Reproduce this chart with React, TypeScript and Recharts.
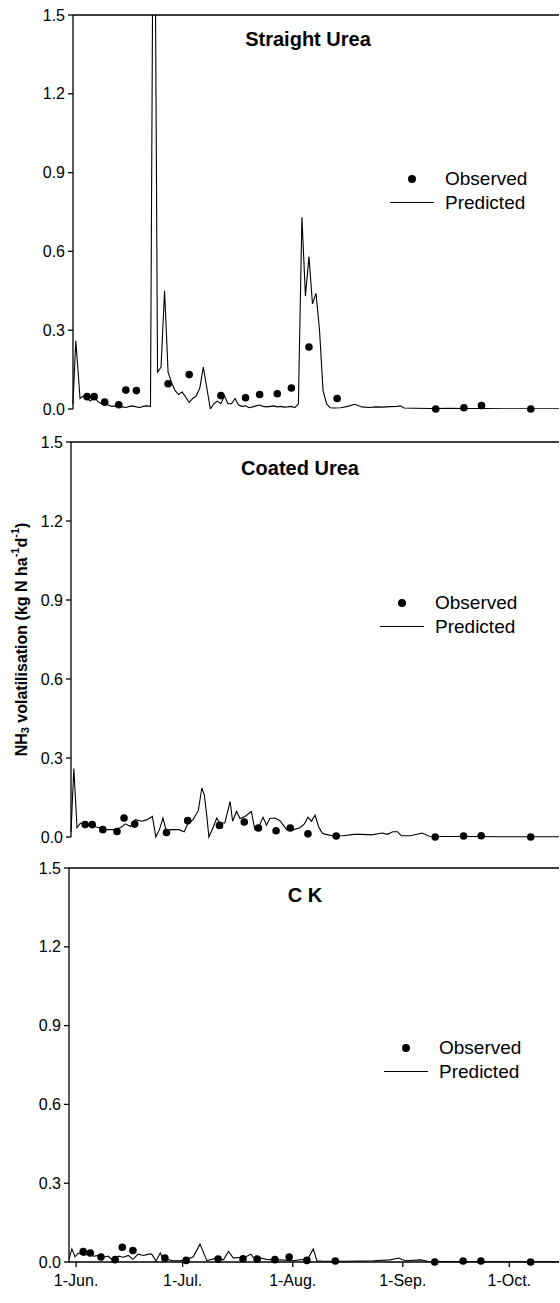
import React from 'react';
import { ComposedChart, Line, Scatter, XAxis, YAxis, ReferenceLine } from 'recharts';

const FONT = '"Liberation Sans", Arial, Helvetica, sans-serif';

// x values are days counted from 1 June
const monthTicks = [0, 30, 61, 92, 122];
const monthLabels = ['1-Jun.', '1-Jul.', '1-Aug.', '1-Sep.', '1-Oct.'];
const yTicks = [0, 0.3, 0.6, 0.9, 1.2, 1.5];

// sampling dates of the field measurements
const obsDays = [2, 4, 7, 11, 13, 16, 25, 31, 40, 47, 51, 56, 60, 65, 73, 101, 109, 114, 128];
const ureaObs = [0.047, 0.047, 0.026, 0.016, 0.072, 0.07, 0.096, 0.131, 0.051, 0.043, 0.055, 0.058, 0.08, 0.236, 0.04, 0.0, 0.005, 0.013, 0.0];
const coatedObs = [0.047, 0.047, 0.028, 0.021, 0.072, 0.049, 0.017, 0.062, 0.044, 0.057, 0.034, 0.024, 0.034, 0.012, 0.004, 0.0, 0.004, 0.005, 0.0];
const ckObs = [0.04, 0.034, 0.019, 0.009, 0.056, 0.044, 0.015, 0.006, 0.011, 0.012, 0.011, 0.009, 0.019, 0.006, 0.004, 0.0, 0.004, 0.004, 0.0];

const ureaPredDays = [
  -2, -1.2, 0, 1, 2, 3, 4, 5, 6, 7, 8, 9, 10, 11, 12, 13, 14, 15, 16, 17, 18, 19, 20, 21, 22, 23, 24, 25,
  26, 27, 28, 29, 30, 31, 32, 33, 34, 35, 36, 37, 38, 39, 40, 41, 42, 43, 44, 45, 46, 47, 48, 49, 50, 51,
  52, 53, 54, 55, 56, 57, 58, 59, 60, 61, 62, 63, 64, 65, 66, 67, 68, 69, 70, 71, 72, 74, 76, 78, 80, 82,
  84, 86, 88, 90, 91, 92, 95, 100, 105, 110, 115, 120, 125, 130, 136,
];
const ureaPredValues = [
  0.02, 0.26, 0.04, 0.05, 0.04, 0.03, 0.045, 0.03, 0.02, 0.018, 0.015, 0.01, 0.012, 0.01, 0.008, 0.006,
  0.01, 0.012, 0.008, 0.006, 0.01, 0.012, 0.01, 2.6, 0.14, 0.16, 0.45, 0.14,
  0.1, 0.07, 0.055, 0.065, 0.045, 0.025, 0.04, 0.05, 0.08, 0.16, 0.08, 0.0, 0.02, 0.03, 0.02, 0.05, 0.02,
  0.02, 0.04, 0.015, 0.01, 0.012, 0.005, 0.008, 0.012, 0.015,
  0.01, 0.008, 0.01, 0.012, 0.008, 0.01, 0.007, 0.008, 0.01, 0.005, 0.02, 0.73, 0.43, 0.58, 0.4, 0.44,
  0.3, 0.07, 0.02, 0.005, 0.004, 0.005, 0.01, 0.018, 0.008, 0.006,
  0.008, 0.007, 0.009, 0.01, 0.012, 0.004, 0.003, 0.002, 0.003, 0.002, 0.002, 0.001, 0.001, 0.001, 0.001,
];

const coatedPredDays = [
  -2, -1.2, -0.3, 0.7, 2, 3, 4.5, 6, 8, 10, 12, 13.4, 14.8, 16.2, 18, 19.5, 21, 22, 23, 24, 25, 26, 27,
  28.5, 30, 31, 32.5, 34, 35, 35.7, 36.4, 37, 38.3, 39.2, 40, 41.5, 43, 43.7, 44.8, 45.8, 47.2, 49, 50,
  51, 52.3, 53.3, 54.2, 55.6, 57, 59, 61, 62.7, 64, 65, 66, 67, 68, 69, 70, 72, 75, 78, 80, 83, 86, 87.5,
  89, 90.3, 91.4, 94, 97.3, 99.3, 104, 110, 120, 136,
];
const coatedPredValues = [
  0.02, 0.26, 0.035, 0.053, 0.05, 0.045, 0.04, 0.035, 0.028, 0.028, 0.035, 0.05, 0.04, 0.066, 0.06, 0.066,
  0.078, 0.0, 0.028, 0.072, 0.02, 0.028, 0.028,
  0.028, 0.02, 0.05, 0.066, 0.1, 0.186, 0.16, 0.08, 0.0, 0.04, 0.072, 0.053, 0.053, 0.135, 0.06, 0.097,
  0.07, 0.078, 0.097, 0.028,
  0.035, 0.075, 0.045, 0.07, 0.072, 0.063, 0.028, 0.028, 0.035, 0.05, 0.075, 0.06, 0.083, 0.04, 0.015,
  0.01, 0.005, 0.005, 0.01, 0.01, 0.008, 0.015, 0.01,
  0.02, 0.02, 0.005, 0.005, 0.015, 0.003, 0.002, 0.002, 0.001, 0.001,
];

const ckPredDays = [
  -2, -1.2, -0.3, 0.6, 2, 3.5, 5, 6.3, 7.7, 9, 10.5, 12, 13.3, 14.7, 16, 17.5, 19, 20.4, 21.3, 22.5, 23.7,
  24.6, 25.5, 27.4, 29.3, 31.2, 33, 34.9, 36.8, 38.2, 39.6, 41.5, 42.9, 44.3, 46.2, 48.1, 49.2, 50.4, 51.8,
  53.7, 55.6, 57.5, 61, 64, 65.4, 66.8, 67.8, 69.6, 76, 83.7, 88.5, 90.8, 92.7, 97, 99, 104.5, 115, 136,
];
const ckPredValues = [
  0.01, 0.05, 0.02, 0.034, 0.025, 0.03, 0.022, 0.025, 0.018, 0.022, 0.005, 0.022, 0.018, 0.025, 0.01, 0.03,
  0.025, 0.03, 0.03, 0.003, 0.034,
  0.01, 0.01, 0.005, 0.005, 0.01, 0.02, 0.068, 0.005, 0.01, 0.015, 0.008, 0.04, 0.015, 0.018, 0.022, 0.03,
  0.01, 0.015,
  0.01, 0.008, 0.008, 0.005, 0.01, 0.015, 0.05, 0.005, 0.003, 0.003, 0.005, 0.008, 0.015, 0.005, 0.008,
  0.003, 0.002, 0.001, 0.001,
];

const toPoints = (days: number[], values: number[]) =>
  days.map((day, i) => ({ day, value: values[i] }));

const EmptyTick = () => <g />;

const Dot = (props: any) => <circle cx={props.cx} cy={props.cy} r={3.8} fill="#000" />;

const renderYLabel = (props: any) => {
  const vb = props.viewBox || { x: 0, y: 10, width: 71, height: 395 };
  const cx = vb.x + 21;
  const cy = vb.y + vb.height / 2;
  return (
    <text
      x={cx}
      y={cy}
      transform={`rotate(-90 ${cx} ${cy})`}
      textAnchor="middle"
      dominantBaseline="central"
      fontFamily={FONT}
      fontWeight="bold"
      fontSize={16}
      fill="#000"
    >
      <tspan>NH</tspan>
      <tspan dy={4} fontSize={11}>3</tspan>
      <tspan dy={-4}> volatilisation (kg N ha</tspan>
      <tspan dy={-6} fontSize={11}>-1</tspan>
      <tspan dy={6}>d</tspan>
      <tspan dy={-6} fontSize={11}>-1</tspan>
      <tspan dy={6}>)</tspan>
    </text>
  );
};

type PanelProps = {
  title: string;
  pred: { day: number; value: number }[];
  obs: { day: number; value: number }[];
  top: number;
  left: number;
  plotHeight: number;
  titleX: number;
  titleY: number;
  legendX: number;
  legendY: number;
  showDates?: boolean;
  clip?: boolean;
  yLabel?: boolean;
};

function Panel({
  title, pred, obs, top, left, plotHeight, titleX, titleY, legendX, legendY, showDates, clip, yLabel,
}: PanelProps) {
  const tickStyle = { fill: '#000', fontSize: 16, fontFamily: FONT };
  return (
    <>
      <div style={{ position: 'absolute', left: 0, top }}>
        <ComposedChart
          width={560}
          height={10 + plotHeight + (showDates ? 40 : 13)}
          margin={{ top: 10, right: 1, bottom: showDates ? 0 : 13, left: 0 }}
        >
          {showDates ? (
            <XAxis
              type="number"
              dataKey="day"
              domain={[-2, 136]}
              ticks={monthTicks}
              interval={0}
              height={40}
              tickSize={5}
              tickMargin={8}
              stroke="#000"
              strokeWidth={1.3}
              tick={tickStyle}
              tickFormatter={(v: number) => monthLabels[monthTicks.indexOf(v)]}
            />
          ) : (
            <XAxis
              type="number"
              dataKey="day"
              domain={[-2, 136]}
              ticks={monthTicks}
              interval={0}
              height={0}
              mirror
              tickSize={5}
              stroke="#000"
              strokeWidth={1.3}
              tick={EmptyTick}
            />
          )}
          <YAxis
            type="number"
            dataKey="value"
            domain={[0, 1.5]}
            ticks={yTicks}
            interval={0}
            width={left}
            tickSize={5}
            tickMargin={3}
            allowDataOverflow={clip}
            stroke="#000"
            strokeWidth={1.3}
            tick={tickStyle}
            tickFormatter={(v: number) => v.toFixed(1)}
            label={yLabel ? renderYLabel : undefined}
          />
          <YAxis yAxisId="obs" type="number" dataKey="value" domain={[0, 1.5]} hide />
          <ReferenceLine y={1.5} stroke="#000" strokeWidth={1.3} />
          <Line
            data={pred}
            dataKey="value"
            type="linear"
            stroke="#000"
            strokeWidth={1.1}
            dot={false}
            activeDot={false}
            isAnimationActive={false}
          />
          <Scatter
            data={obs}
            dataKey="value"
            yAxisId="obs"
            fill="#000"
            shape={Dot}
            isAnimationActive={false}
          />
        </ComposedChart>
      </div>
      <div
        style={{
          position: 'absolute', left: titleX - 100, top: titleY - 12, width: 200, height: 24,
          lineHeight: '24px', textAlign: 'center', fontFamily: FONT, fontWeight: 'bold', fontSize: 20,
        }}
      >
        {title}
      </div>
      <svg style={{ position: 'absolute', left: legendX - 30, top: legendY - 10 }} width={60} height={45}>
        <circle cx={30} cy={10} r={4} fill="#000" />
        <line x1={8} x2={52} y1={33.5} y2={33.5} stroke="#000" strokeWidth={1.1} />
      </svg>
      <div
        style={{
          position: 'absolute', left: legendX + 33, top: legendY - 11, fontFamily: FONT, fontSize: 19,
          lineHeight: '22px', whiteSpace: 'nowrap',
        }}
      >
        Observed
      </div>
      <div
        style={{
          position: 'absolute', left: legendX + 33, top: legendY + 12.5, fontFamily: FONT, fontSize: 19,
          lineHeight: '22px', whiteSpace: 'nowrap',
        }}
      >
        Predicted
      </div>
    </>
  );
}

export default function App() {
  return (
    <div
      style={{
        position: 'absolute', left: 0, top: 0, width: 560, height: 1303, background: '#fff',
        fontFamily: FONT, color: '#000', overflow: 'hidden',
      }}
    >
      <Panel
        title="Straight Urea"
        pred={toPoints(ureaPredDays, ureaPredValues)}
        obs={toPoints(obsDays, ureaObs)}
        top={5}
        left={73}
        plotHeight={394}
        titleX={308}
        titleY={39}
        legendX={412}
        legendY={179}
        clip
      />
      <Panel
        title="Coated Urea"
        pred={toPoints(coatedPredDays, coatedPredValues)}
        obs={toPoints(obsDays, coatedObs)}
        top={432}
        left={71}
        plotHeight={395}
        titleX={300}
        titleY={468}
        legendX={402}
        legendY={603}
        yLabel
      />
      <Panel
        title="C K"
        pred={toPoints(ckPredDays, ckPredValues)}
        obs={toPoints(obsDays, ckObs)}
        top={858}
        left={69}
        plotHeight={394}
        titleX={305}
        titleY={895}
        legendX={406}
        legendY={1048}
        showDates
      />
    </div>
  );
}
